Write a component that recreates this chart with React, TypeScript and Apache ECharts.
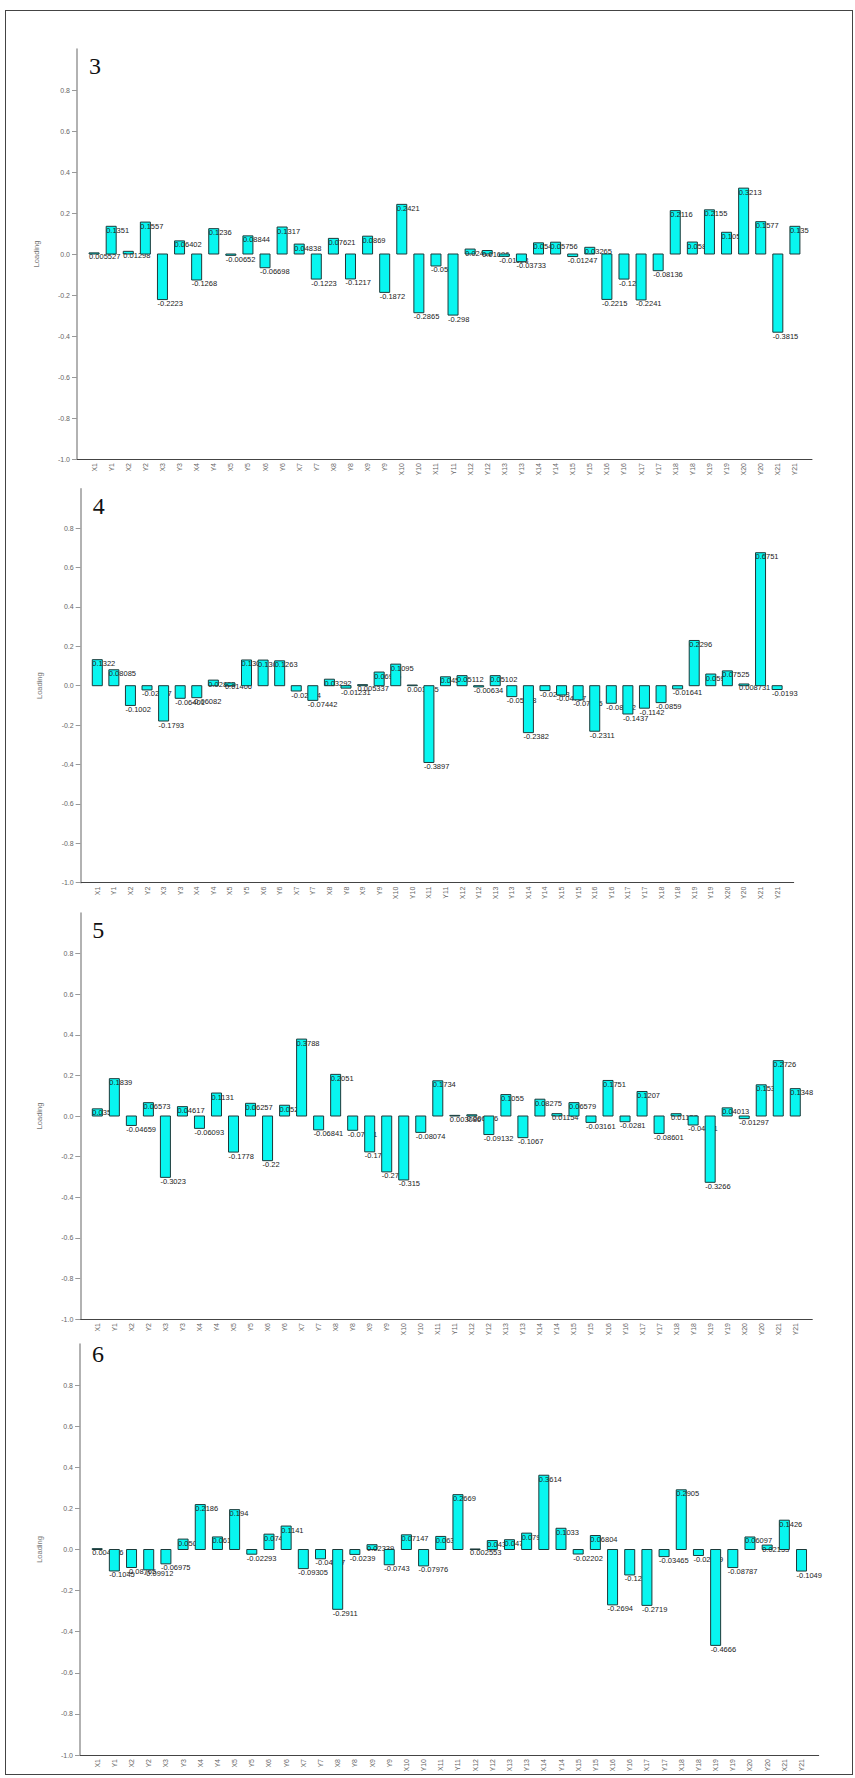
import React, { useEffect, useRef } from "react";
import * as echarts from "echarts";

const categories: string[] = [];
for (let i = 1; i <= 21; i++) { categories.push("X" + i); categories.push("Y" + i); }

const panelNames = ["3", "4", "5", "6"];

const loadings3 = [0.005527, 0.1351, 0.01298, 0.1557, -0.2223, 0.06402, -0.1268, 0.1236, -0.00652, 0.08844,
  -0.06698, 0.1317, 0.04838, -0.1223, 0.07621, -0.1217, 0.0869, -0.1872, 0.2421, -0.2865,
  -0.0584, -0.298, 0.02411, 0.01696, -0.01128, -0.03733, 0.0545, 0.05756, -0.01247, 0.03265,
  -0.2215, -0.1224, -0.2241, -0.08136, 0.2116, 0.05836, 0.2155, 0.1059, 0.3213, 0.1577, -0.3815, 0.135];

const loadings4 = [0.1322, 0.08085, -0.1002, -0.02147, -0.1793, -0.06401, -0.06082, 0.02835, 0.01406, 0.1306,
  0.1301, 0.1263, -0.02694, -0.07442, 0.03292, -0.01231, 0.005337, 0.06925, 0.1095, 0.003445,
  -0.3897, 0.04513, 0.05112, -0.00634, 0.05102, -0.05538, -0.2382, -0.02483, -0.04707, -0.07185,
  -0.2311, -0.08922, -0.1437, -0.1142, -0.0859, -0.01641, 0.2296, 0.05926, 0.07525, 0.008731, 0.6751, -0.0193];

const loadings5 = [0.03527, 0.1839, -0.04659, 0.06573, -0.3023, 0.04617, -0.06093, 0.1131, -0.1778, 0.06257,
  -0.22, 0.05296, 0.3788, -0.06841, 0.2051, -0.07041, -0.1767, -0.2753, -0.315, -0.08074,
  0.1734, 0.003086, 0.006066, -0.09132, 0.1055, -0.1067, 0.08275, 0.01154, 0.06579, -0.03161,
  0.1751, -0.0281, 0.1207, -0.08601, 0.01128, -0.04431, -0.3266, 0.04013, -0.01297, 0.1537, 0.2726, 0.1348];

const loadings6 = [0.004126, -0.1045, -0.08765, -0.09912, -0.06975, 0.0506, 0.2186, 0.0612, 0.194, -0.02293,
  0.0747, 0.1141, -0.09305, -0.04527, -0.2911, -0.0239, 0.02339, -0.0743, 0.07147, -0.07976,
  0.0636, 0.2669, 0.002553, 0.04352, 0.0477, 0.07963, 0.3614, 0.1033, -0.02202, 0.06804,
  -0.2694, -0.1238, -0.2719, -0.03465, 0.2905, -0.02919, -0.4666, -0.08787, 0.06097, 0.02153, 0.1426, -0.1049];

const yTickStep = 0.2;
const yMin = -1;
const yMax = 1;

const allLoadings = [loadings3, loadings4, loadings5, loadings6];

// layout of each panel (pixels)
const grids = [
  { left: 77, top: 49, width: 735, height: 410, titleTop: 54 },
  { left: 80.7, top: 488.7, width: 713, height: 394, titleTop: 494 },
  { left: 80.3, top: 913, width: 732, height: 406, titleTop: 918 },
  { left: 80, top: 1344, width: 738.7, height: 411, titleTop: 1342 },
];

const BAR_FILL = "#08f6f0";
const BAR_STROKE = "#1c3a3a";
const BAR_W = 10;

function buildOption() {
  const option: any = {
    animation: false,
    backgroundColor: "#ffffff",
    title: [],
    grid: [],
    xAxis: [],
    yAxis: [],
    series: [],
  };
  grids.forEach((g, k) => {
    option.title.push({
      text: panelNames[k],
      left: g.left + 12,
      top: g.titleTop,
      padding: 0,
      textStyle: { fontFamily: "Liberation Serif", fontSize: 24, fontWeight: "normal", color: "#111" },
    });
    option.grid.push({ left: g.left, top: g.top, width: g.width, height: g.height, containLabel: false });
    option.xAxis.push({
      type: "value",
      gridIndex: k,
      min: 0,
      max: categories.length + 1,
      interval: 1,
      splitLine: { show: false },
      axisLine: { onZero: false, lineStyle: { color: "#444", width: 1 } },
      axisTick: { show: false },
      axisLabel: {
        rotate: 90,
        fontSize: 7,
        color: "#666",
        margin: 4,
        fontFamily: "Liberation Sans",
        showMinLabel: true,
        showMaxLabel: true,
        formatter: (v: number) => (v >= 1 && v <= categories.length ? categories[v - 1] : ""),
      },
    });
    option.yAxis.push({
      type: "value",
      gridIndex: k,
      min: yMin,
      max: yMax,
      interval: yTickStep,
      name: "Loading",
      nameLocation: "middle",
      nameGap: 37,
      nameTextStyle: { fontSize: 7.5, color: "#777", fontFamily: "Liberation Sans" },
      splitLine: { show: false },
      axisLine: { show: true, onZero: false, lineStyle: { color: "#999", width: 1.5 } },
      axisTick: { show: true, length: 5, lineStyle: { color: "#999" } },
      axisLabel: {
        fontSize: 7,
        color: "#666",
        margin: 7,
        fontFamily: "Liberation Sans",
        showMaxLabel: false,
        formatter: (v: number) => v.toFixed(1),
      },
    });
    const vals = allLoadings[k];
    option.series.push({
      type: "custom",
      xAxisIndex: k,
      yAxisIndex: k,
      encode: { x: 0, y: 1 },
      data: vals.map((v, i) => [i + 1, v]),
      renderItem: (params: any, api: any) => {
        const xv = api.value(0);
        const yv = api.value(1);
        const pt = api.coord([xv, yv]);
        const base = api.coord([xv, 0]);
        const x = pt[0] - BAR_W / 2;
        const y = Math.min(pt[1], base[1]);
        const h = Math.abs(base[1] - pt[1]);
        return {
          type: "group",
          children: [
            { type: "rect", shape: { x, y, width: BAR_W, height: h }, style: { fill: BAR_FILL, stroke: null } },
            {
              type: "text",
              x: x,
              y: pt[1] + 4,
              style: {
                text: String(yv),
                fontSize: 7.5,
                fontFamily: "Liberation Sans",
                fill: "#222",
                align: "left",
                verticalAlign: "middle",
              },
            },
            { type: "rect", shape: { x, y, width: BAR_W, height: h }, style: { fill: null, stroke: BAR_STROKE, lineWidth: 1 } },
          ],
        };
      },
    });
  });
  return option;
}

export default function App() {
  const ref = useRef<HTMLDivElement>(null);
  useEffect(() => {
    if (!ref.current) return;
    const chart = echarts.init(ref.current, undefined, { renderer: "svg" });
    chart.setOption(buildOption());
    return () => chart.dispose();
  }, []);
  return (
    <div style={{ position: "absolute", left: 0, top: 0, width: 855, height: 1778, background: "#fff" }}>
      <div ref={ref} style={{ position: "absolute", left: 0, top: 0, width: 855, height: 1778 }} />
      <div
        style={{
          position: "absolute",
          left: 5,
          top: 10,
          width: 848,
          height: 1765,
          border: "1.5px solid #444",
          boxSizing: "border-box",
          pointerEvents: "none",
        }}
      />
    </div>
  );
}
